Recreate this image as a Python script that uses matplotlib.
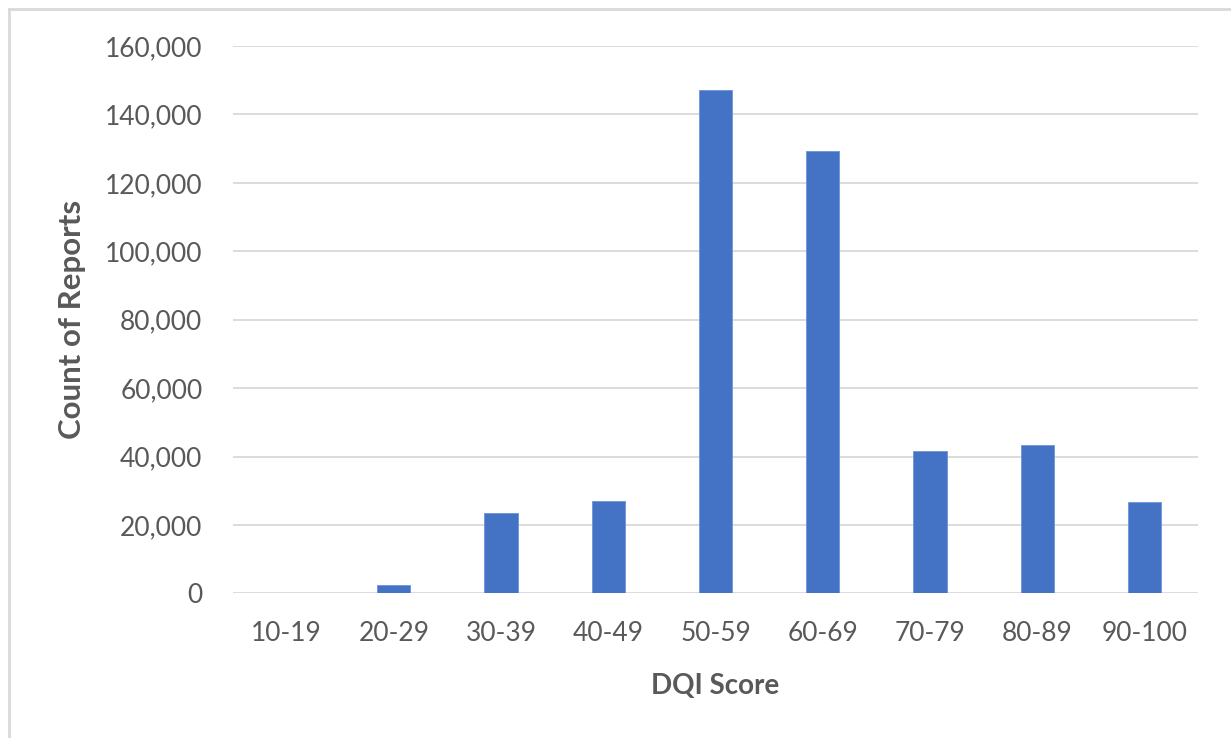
import matplotlib
matplotlib.use("Agg")
import matplotlib.pyplot as plt
from matplotlib.lines import Line2D
from matplotlib.ticker import FuncFormatter

score_bands = ["10-19", "20-29", "30-39", "40-49", "50-59",
               "60-69", "70-79", "80-89", "90-100"]
report_counts = [0, 2400, 23400, 27100, 147100, 129400, 41600, 43400, 26700]
y_ticks = [0, 20000, 40000, 60000, 80000, 100000, 120000, 140000, 160000]

plt.rcParams["font.family"] = ["Lato", "DejaVu Sans"]
text_grey = "#595959"
grid_grey = "#d9d9d9"
bar_blue = "#4472C4"

fig = plt.figure(figsize=(12.31, 7.38), dpi=100)
ax = fig.add_axes([0.1893, 0.1958, 0.9732 - 0.1893, 0.9377 - 0.1958])

x = list(range(len(score_bands)))
ax.bar(x, report_counts, width=0.31, color=bar_blue,
       edgecolor="#6f93d6", linewidth=0.6, zorder=3)

ax.set_xlim(-0.5, len(score_bands) - 0.5)
ax.set_ylim(0, 160000)
ax.set_yticks(y_ticks)
ax.yaxis.set_major_formatter(FuncFormatter(lambda v, _: f"{int(v):,}"))
ax.set_xticks(x)
ax.set_xticklabels(score_bands)

ax.grid(axis="y", color=grid_grey, linewidth=1.3, zorder=0)
ax.set_axisbelow(True)
for side in ["top", "right", "left", "bottom"]:
    ax.spines[side].set_visible(False)

ax.tick_params(axis="both", length=0, labelsize=19, colors=text_grey)
ax.tick_params(axis="y", pad=22)
ax.tick_params(axis="x", pad=20)

ax.set_xlabel("DQI Score", fontsize=20, fontweight="bold", color=text_grey, labelpad=19)
ax.set_ylabel("Count of Reports", fontsize=22.5, fontweight="bold", color=text_grey)
ax.yaxis.set_label_coords(-0.152, 0.5)

# outer chart frame (top and left edges)
fig.add_artist(Line2D([8.5 / 1231, 1.0], [1 - 8.5 / 738, 1 - 8.5 / 738],
                      transform=fig.transFigure, color=grid_grey, linewidth=2))
fig.add_artist(Line2D([8.5 / 1231, 8.5 / 1231], [0.0, 1 - 8.5 / 738],
                      transform=fig.transFigure, color=grid_grey, linewidth=2))

fig.savefig("out.png", dpi=100, facecolor="white")
